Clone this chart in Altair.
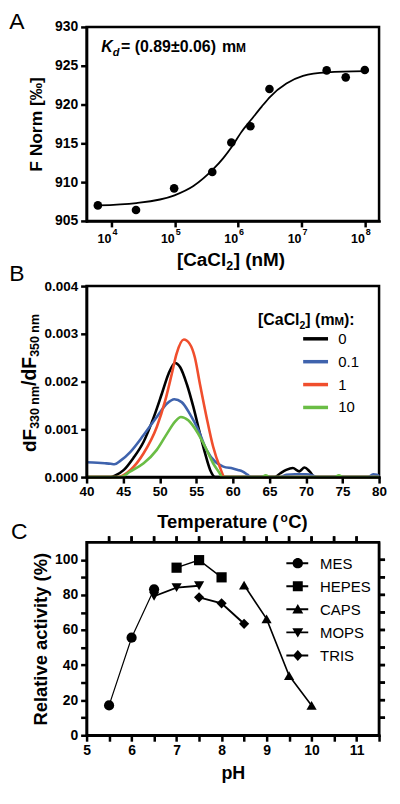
import math
import altair as alt
import pandas as pd

FONT = "Liberation Sans, Arial, Helvetica, sans-serif"

# ---------------- Panel A data (MST binding curve) ----------------
a_conc = [6104, 24414, 97656, 390625, 781250, 1562500, 3125000, 25000000, 50000000, 100000000]
a_fnorm = [907.0, 906.4, 909.2, 911.3, 915.1, 917.2, 922.0, 924.4, 923.5, 924.45]
fit_conc = [6100, 24700, 99000, 197000, 397000, 583000, 800000, 1135000, 1590000,
            2340000, 3200000, 5780000, 10570000, 25500000, 102000000]
fit_fnorm = [907.0, 907.3, 908.3, 909.5, 911.6, 913.1, 914.6, 916.5, 918.0,
             919.7, 921.0, 922.7, 923.7, 924.15, 924.3]
a_decades = [1e4, 1e5, 1e6, 1e7, 1e8]
a_exps = ["4", "5", "6", "7", "8"]
a_yticks = [905, 910, 915, 920, 925, 930]

# ---------------- Panel B data (nanoDSF first derivative) ----------------
b_labels = ["0", "0.1", "1", "10"]
b_colors = ["#000000", "#3f63ad", "#f04e2d", "#6abd45"]
t_0 = [40, 43.3, 44.0, 45.1, 46.4, 47.8, 49.2, 50.3, 51.2, 52.1, 52.8, 53.7, 54.6, 55.5,
       56.2, 56.9, 57.6, 65.7, 66.5, 67.3, 68.2, 69.1, 69.8, 70.5, 71.2, 80]
v_0 = [0, 0, 0.00004, 0.00015, 0.0004, 0.00074, 0.00126, 0.00175, 0.00216, 0.00239, 0.0023,
       0.00195, 0.00147, 0.00091, 0.0005, 0.00015, 0, 0, 0.00008, 0.00015, 0.00019, 0.00012,
       0.0002, 0.00012, 0, 0]
t_01 = [40, 41.5, 42.5, 43.3, 43.8, 44.6, 46.0, 47.8, 49.6, 51.0, 52.0, 53.0, 54.1, 55.3,
        56.4, 57.6, 58.7, 60.0, 60.7, 61.3, 62.0, 62.5, 66.5, 67.3, 68.5, 70.0, 71.0, 71.5,
        78.5, 79.2, 79.7, 80]
v_01 = [0.00031, 0.0003, 0.00029, 0.00028, 0.00027, 0.00034, 0.00053, 0.00088, 0.00126,
        0.00154, 0.00163, 0.00157, 0.00133, 0.00098, 0.00057, 0.00032, 0.00022, 0.00018,
        0.00015, 0.00012, 0.00005, 0, 0, 0.00005, 0.00006, 0.00006, 0.00003, 0, 0, 0.00006,
        0.00005, 0.00002]
t_1 = [40, 44.2, 46.0, 47.8, 49.6, 50.75, 51.65, 52.3, 53.3, 54.1, 54.8, 55.5, 56.4, 57.3,
       58.2, 58.9, 80]
v_1 = [0, 0, 0.00015, 0.0005, 0.00105, 0.0016, 0.00216, 0.00258, 0.00288, 0.00279, 0.00251,
       0.00195, 0.00126, 0.00064, 0.00022, 0, 0]
t_10 = [40, 44.6, 46.0, 47.8, 49.6, 51.0, 52.1, 52.9, 53.9, 55.1, 56.2, 57.3, 58.2, 58.5,
        64.0, 64.5, 65.0, 74.0, 74.5, 75.0, 80]
v_10 = [0, 0, 0.00012, 0.00029, 0.00057, 0.00091, 0.00116, 0.00126, 0.00119, 0.00095,
        0.00064, 0.00029, 0.00008, 0, 0, 0.00004, 0, 0, 0.00004, 0, 0]
b_xticks = [40, 45, 50, 55, 60, 65, 70, 75, 80]
b_yticks = [0, 0.001, 0.002, 0.003, 0.004]

# ---------------- Panel C data (pH profile) ----------------
buffers = ["MES", "HEPES", "CAPS", "MOPS", "TRIS"]
ph_mes, act_mes = [5.5, 6.0, 6.5], [17.0, 55.6, 83.2]
ph_hepes, act_hepes = [7.0, 7.5, 8.0], [95.5, 99.8, 90.0]
ph_caps, act_caps = [8.5, 9.0, 9.5, 10.0], [85.6, 66.3, 34.0, 17.0]
ph_mops, act_mops = [6.5, 7.0, 7.5], [79.2, 84.1, 85.2]
ph_tris, act_tris = [7.5, 8.0, 8.5], [78.6, 75.2, 63.5]
c_xticks = [5 + 0.5 * i for i in range(14)]
c_xticks_top = [5.5 + 0.5 * i for i in range(12)]
c_yticks = list(range(0, 101, 10))
c_yticks_right = list(range(10, 101, 10))

# ---------------- layout constants ----------------
W = 294
H_A, H_B, H_C = 195, 192, 194
SP = 65.5
C_TOP = H_A + SP + H_B + SP  # top of panel C, in panel-A pixel coordinates

AB = {' ': 278, '(': 333, ')': 333, '[': 333, ']': 333, '/': 278, '.': 278, ':': 333,
      '=': 584, '±': 549, 'A': 722, 'C': 722, 'F': 611, 'K': 722, 'M': 833, 'N': 722,
      'T': 611, 'a': 556, 'd': 611, 'e': 556, 'l': 278, 'm': 889, 'n': 611, 'o': 611,
      'p': 611, 'r': 389, 't': 333, 'u': 611}


def tw(s, size):
    return sum(AB.get(c, 556) for c in s) * size / 1000.0


def rich(pieces, x0, y0, angle=None):
    """pieces: (text, fontsize, baseline shift, style, gap before)"""
    layers = []
    off = 0.0
    for text, size, dy, style, gap in pieces:
        off += gap
        props = dict(align="left", baseline="alphabetic", font=FONT, fontSize=size,
                     fontWeight="bold", color="black")
        if "i" in style:
            props["fontStyle"] = "italic"
        if angle is None:
            enc = dict(x=alt.value(x0 + off), y=alt.value(y0 + dy))
        else:
            props["angle"] = angle
            enc = dict(x=alt.value(x0 + dy), y=alt.value(y0 - off))
        layers.append(alt.Chart(pd.DataFrame({"t": [text]})).mark_text(**props)
                      .encode(text="t:N", **enc))
        off += tw(text, size)
    return layers


def letter(ch, x, y):
    return alt.Chart(pd.DataFrame({"t": [ch]})).mark_text(
        align="left", baseline="alphabetic", font=FONT, fontSize=23, fontWeight="normal",
        color="black").encode(text="t:N", x=alt.value(x), y=alt.value(y))


# ---------------- Panel A ----------------
A_LO, A_HI = 4050, 1.68e8
xa = alt.Scale(type="log", domain=[A_LO, A_HI], nice=False)
ya = alt.Scale(domain=[905, 930], nice=False, zero=False)
ax_xa = alt.Axis(values=a_decades, labels=False, title=None)
ax_ya = alt.Axis(values=a_yticks, format="d", title="F Norm [‰]", titleFontSize=17.5,
                 titlePadding=9)

df_a = pd.DataFrame({"conc": a_conc, "fnorm": a_fnorm})
df_fit = pd.DataFrame({"conc": fit_conc, "fnorm": fit_fnorm})
df_dec = pd.DataFrame({"v": a_decades, "e": a_exps, "b": ["10"] * len(a_decades)})

fit_a = alt.Chart(df_fit).mark_line(color="black", strokeWidth=1.8, interpolate="monotone").encode(
    x=alt.X("conc:Q", scale=xa, axis=ax_xa), y=alt.Y("fnorm:Q", scale=ya, axis=ax_ya))
pts_a = alt.Chart(df_a).mark_circle(size=75, color="black", opacity=1).encode(
    x=alt.X("conc:Q", scale=xa, axis=ax_xa), y=alt.Y("fnorm:Q", scale=ya, axis=ax_ya))
ten_a = alt.Chart(df_dec).mark_text(align="right", baseline="alphabetic", font=FONT, fontSize=12.5,
                                    fontWeight="bold", color="black").encode(
    x=alt.X("v:Q", scale=xa, axis=ax_xa), y=alt.value(H_A + 22.3), text="b:N")
exp_a = alt.Chart(df_dec).mark_text(align="left", baseline="alphabetic", font=FONT, fontSize=9,
                                    fontWeight="bold", color="black", dx=1).encode(
    x=alt.X("v:Q", scale=xa, axis=ax_xa), y=alt.value(H_A + 14), text="e:N")

ann_a = rich([("K", 16, 0, "bi", 0), ("d", 11, 4, "bi", 0), ("= (0.89±0.06)", 16, 0, "b", 1.6),
              ("m", 16, 0, "b", 6), ("M", 12, 0, "b", 0)], 14.7, 25.7)
title_xa = rich([("[CaCl", 19, 0, "b", 0), ("2", 12.5, 4, "b", 0), ("] (nM)", 19, 0, "b", 0.5)],
                90.8, 240)

# panel C frame (top/right border with mirrored ticks), drawn from panel A's layer
LA, LB = math.log10(A_LO), math.log10(A_HI)
df_ct = pd.DataFrame({"v": c_xticks_top})
df_cr = pd.DataFrame({"v": c_yticks_right})
cf_top_ticks = alt.Chart(df_ct).transform_calculate(
    cx=f"pow(10, {LA} + (datum.v - 5) / 6.5 * {LB - LA})").mark_rule(
    color="black", strokeWidth=2.5).encode(
    x=alt.X("cx:Q", scale=xa, axis=ax_xa), y=alt.value(C_TOP), y2=alt.value(C_TOP - 6))
cf_right_ticks = alt.Chart(df_cr).transform_calculate(
    cy=f"930 - ({C_TOP} + (110 - datum.v) / 110 * {H_C}) * 25 / {H_A}").mark_rule(
    color="black", strokeWidth=2.5).encode(
    y=alt.Y("cy:Q", scale=ya, axis=ax_ya), x=alt.value(W), x2=alt.value(W + 6))
cf_top = alt.Chart(pd.DataFrame({"f": [1]})).mark_rule(color="black", strokeWidth=2.5).encode(
    x=alt.value(0), x2=alt.value(W), y=alt.value(C_TOP))
cf_right = alt.Chart(pd.DataFrame({"f": [1]})).mark_rule(color="black", strokeWidth=2.5).encode(
    x=alt.value(W), y=alt.value(C_TOP), y2=alt.value(C_TOP + H_C))

chart_a = alt.layer(fit_a, pts_a, ten_a, exp_a, letter("A", -77.7, 2.5), *ann_a, *title_xa,
                    cf_top_ticks, cf_right_ticks, cf_top, cf_right).properties(
    width=W, height=H_A)

# ---------------- Panel B ----------------
rows = []
for lab, ts, vs in zip(b_labels, [t_0, t_01, t_1, t_10], [v_0, v_01, v_1, v_10]):
    for t, v in zip(ts, vs):
        rows.append({"T": t, "v": v, "conc": lab})
df_b = pd.DataFrame(rows)

xb = alt.Scale(domain=[40, 80], nice=False)
yb = alt.Scale(domain=[0, 0.004], nice=False)
lines_b = alt.Chart(df_b).mark_line(strokeWidth=2.6, interpolate="monotone").encode(
    x=alt.X("T:Q", scale=xb, axis=alt.Axis(values=b_xticks, title=None, labelPadding=2,
                                            labelFontSize=13.5, zindex=1)),
    y=alt.Y("v:Q", scale=yb, axis=alt.Axis(values=b_yticks, format=".3f", title=None,
                                            labelFontSize=13.5, zindex=1)),
    color=alt.Color("conc:N", scale=alt.Scale(domain=b_labels, range=b_colors),
                    legend=alt.Legend(title=None, orient="none", legendX=218.2, legendY=41,
                                      symbolType="M-1.25,0H1.25", symbolSize=400,
                                      symbolStrokeWidth=3.5, labelFont=FONT, labelFontSize=15,
                                      labelFontWeight="normal", labelColor="black",
                                      labelOffset=10.8, rowPadding=3, padding=0)),
    detail="conc:N")

title_yb = rich([("dF", 19, 0, "b", 0), ("330 nm", 12.5, 3.3, "b", 0), ("/dF", 19.5, 0, "b", 0),
                 ("350 nm", 12.5, 3.3, "b", 0)], -51, 166.7, angle=270)
title_xb = rich([("Temperature (", 18.5, 0, "b", 0), ("o", 12, -6.5, "b", 0.5),
                 ("C)", 18.5, 0, "b", 0.5)], 71, 243.2)
leg_title_b = rich([("[CaCl", 16, 0, "b", 0), ("2", 10.5, 4, "b", 0), ("] (m", 16, 0, "b", 0),
                    ("M", 11.5, 0, "b", 0), ("):", 16, 0, "b", 0)], 172.3, 39.5)

chart_b = alt.layer(lines_b, letter("B", -77.7, -5), *title_yb, *title_xb, *leg_title_b).properties(
    width=W, height=H_B)

# ---------------- Panel C ----------------
rows = []
for name, phs, acts in zip(buffers, [ph_mes, ph_hepes, ph_caps, ph_mops, ph_tris],
                           [act_mes, act_hepes, act_caps, act_mops, act_tris]):
    for p, a in zip(phs, acts):
        rows.append({"ph": p, "act": a, "buffer": name})
df_c = pd.DataFrame(rows)

xc = alt.Scale(domain=[5, 11.5], nice=False)
yc = alt.Scale(domain=[0, 110], nice=False)
ax_bottom = alt.Axis(values=c_xticks,
                     labelExpr="datum.value % 1 == 0 ? format(datum.value, 'd') : ''",
                     title="pH", titlePadding=7, labelPadding=2)
ax_left = alt.Axis(values=c_yticks,
                   labelExpr="datum.value % 20 == 0 ? format(datum.value, 'd') : ''",
                   title="Relative activity (%)", titleFontSize=18.5, titlePadding=4)

shapes = ["circle", "square", "triangle-up", "triangle-down", "diamond"]
BAR = "M-2.3,-0.2H2.1V0.2H-2.3Z"
leg_paths = [
    BAR + "M1.05,0A1.05,1.05,0,1,1,-1.05,0A1.05,1.05,0,1,1,1.05,0Z",
    BAR + "M-1,-1H1V1H-1Z",
    BAR + "M0,-1.05L1.1,0.85H-1.1Z",
    BAR + "M0,1.05L-1.1,-0.85H1.1Z",
    BAR + "M0,-1.1L1,0L0,1.1L-1,0Z",
]

xenc = alt.X("ph:Q", scale=xc, axis=ax_bottom)
yenc = alt.Y("act:Q", scale=yc, axis=ax_left)

line_c = alt.Chart(df_c).mark_line(color="black").encode(
    x=xenc, y=yenc, detail="buffer:N",
    strokeWidth=alt.StrokeWidth("buffer:N", scale=alt.Scale(domain=buffers, range=[1.2, 2, 2, 2, 2]),
                                legend=None))
pts_layers = [
    alt.Chart(df_c).transform_filter(alt.datum.buffer == name).mark_point(
        shape=shp, filled=True, color="black", opacity=1, size=105).encode(x=xenc, y=yenc)
    for name, shp in zip(buffers, shapes)
]

# legend (key symbols with the connecting line drawn through them)
LEG_X, LEG_Y0, LEG_DY, LEG_LABEL_X = 212.3, 21, 23.2, 234.7
leg_layers = []
for i, (name, path) in enumerate(zip(buffers, leg_paths)):
    d = pd.DataFrame({"t": [name]})
    leg_layers.append(alt.Chart(d).mark_point(shape=path, filled=True, color="black", opacity=1,
                                              size=100).encode(
        x=alt.value(LEG_X), y=alt.value(LEG_Y0 + i * LEG_DY)))
    leg_layers.append(alt.Chart(d).mark_text(align="left", baseline="middle", font=FONT,
                                             fontSize=15, fontWeight="normal", color="black",
                                             dy=1).encode(
        text="t:N", x=alt.value(LEG_LABEL_X), y=alt.value(LEG_Y0 + i * LEG_DY)))

top_ticks = alt.Chart(df_ct).mark_rule(color="black", strokeWidth=2.5).encode(
    x=alt.X("v:Q", scale=xc, axis=ax_bottom), y=alt.value(0), y2=alt.value(-6))
right_ticks = alt.Chart(df_cr).mark_rule(color="black", strokeWidth=2.5).encode(
    y=alt.Y("v:Q", scale=yc, axis=ax_left), x=alt.value(W), x2=alt.value(W + 6))

chart_c = alt.layer(line_c, *pts_layers, *leg_layers, top_ticks, right_ticks,
                    letter("C", -76, -3)).properties(width=W, height=H_C)

# ---------------- combine ----------------
chart = alt.vconcat(chart_a, chart_b, chart_c, spacing=SP, bounds="flush").resolve_legend(
    color="independent", strokeWidth="independent").properties(
    padding={"left": 0, "top": 0, "right": 4, "bottom": 2}
).configure_view(stroke="black", strokeWidth=2.5).configure_axis(
    domainColor="black", domainWidth=2.5, domainCap="square", tickColor="black", tickWidth=2.5,
    tickSize=6, labelColor="black", labelFont=FONT, labelFontWeight="bold", labelFontSize=14,
    labelPadding=3, labelFlush=False, labelOverlap=False, labelBound=False, titleFont=FONT,
    titleFontWeight="bold", titleFontSize=18, titleColor="black", grid=False)

chart.save("out.html", embed_options={"renderer": "svg", "actions": False})
